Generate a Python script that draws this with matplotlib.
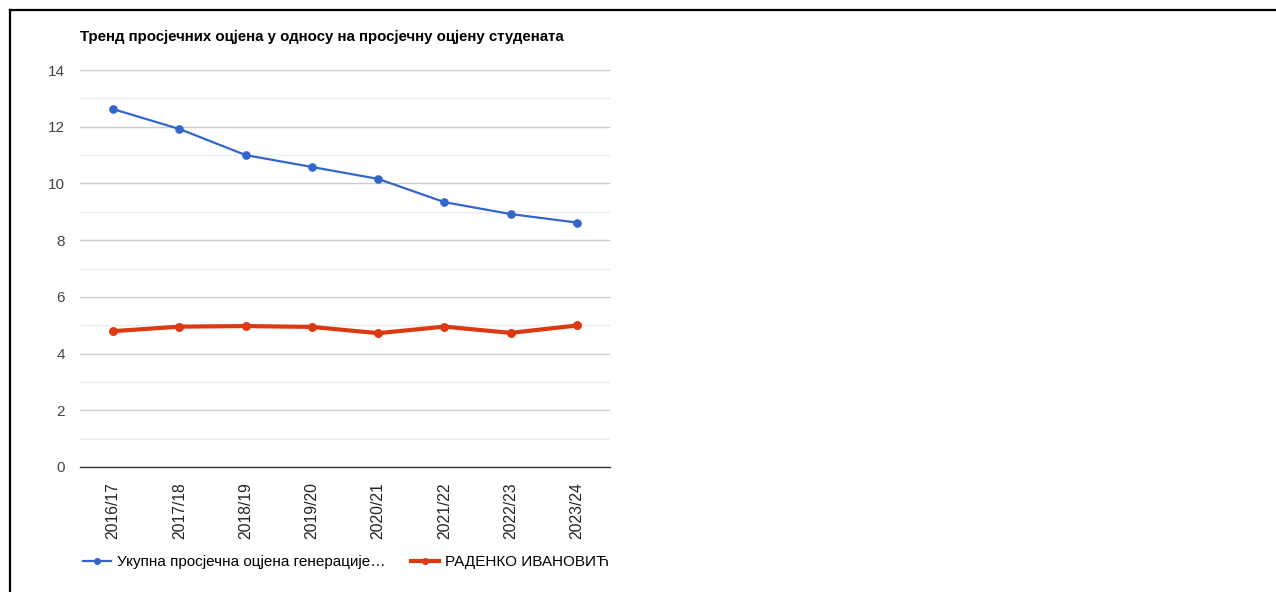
import matplotlib.pyplot as plt
from matplotlib.lines import Line2D
from matplotlib.ticker import MultipleLocator

plt.rcParams["font.family"] = ["Liberation Sans", "DejaVu Sans"]

# academic years on the x axis
years = ["2016/17", "2017/18", "2018/19", "2019/20",
         "2020/21", "2021/22", "2022/23", "2023/24"]
# average of the whole generation
generation_avg = [12.62, 11.92, 11.0, 10.58, 10.16, 9.34, 8.92, 8.62]
# the student's own average
student_avg = [4.79, 4.95, 4.97, 4.94, 4.72, 4.95, 4.73, 4.99]

generation_label = "Укупна просјечна оцјена генерације…"
student_label = "РАДЕНКО ИВАНОВИЋ"
title = "Тренд просјечних оцјена у односу на просјечну оцјену студената"

BLUE = "#3366cc"
RED = "#dc3912"

fig = plt.figure(figsize=(12.76, 5.92), dpi=100)
ax = fig.add_axes([80 / 1276, 1 - 467 / 592, 530 / 1276, 397 / 592])

x = range(len(years))
ax.plot(x, generation_avg, color=BLUE, lw=1.6, marker="o", ms=5.2, zorder=3)
ax.plot(x, student_avg, color=RED, lw=3, marker="o", ms=5.4, zorder=3)

ax.set_xlim(-0.5, len(years) - 0.5)
ax.set_ylim(0, 14)
ax.yaxis.set_major_locator(MultipleLocator(2))
ax.yaxis.set_minor_locator(MultipleLocator(1))
ax.grid(axis="y", which="major", color="#cccccc", lw=1)
ax.grid(axis="y", which="minor", color="#ebebeb", lw=1)
ax.set_axisbelow(True)
for side in ["top", "right", "left"]:
    ax.spines[side].set_visible(False)
ax.spines["bottom"].set_color("#333333")
ax.spines["bottom"].set_linewidth(1)

ax.set_xticks(list(x))
ax.set_xticklabels(years, rotation=90, fontsize=11.3, color="#222222")
ax.tick_params(axis="x", length=0, pad=11)
ax.tick_params(axis="y", which="both", length=0, pad=11, labelsize=11,
               labelcolor="#444444")

fig.text(80 / 1276, 1 - 37 / 592, title, fontsize=10.8, fontweight="bold",
         va="center", ha="left", color="#000000")

handles = [
    Line2D([], [], color=BLUE, lw=1.6, marker="o", ms=4),
    Line2D([], [], color=RED, lw=3, marker="o", ms=4),
]
fig.legend(handles, [generation_label, student_label], loc="center left",
           bbox_to_anchor=(83 / 1276, 1 - 562 / 592), ncol=2, frameon=False,
           fontsize=11, handlelength=1.8, handletextpad=0.4, columnspacing=1.7,
           borderaxespad=0, borderpad=0)

# page frame (top and left edges)
fig.add_artist(Line2D([10 / 1276, 1], [1 - 10 / 592] * 2, color="black", lw=1.6))
fig.add_artist(Line2D([10 / 1276] * 2, [0, 1 - 10 / 592], color="black", lw=1.6))

fig.savefig("out.png", dpi=100)
